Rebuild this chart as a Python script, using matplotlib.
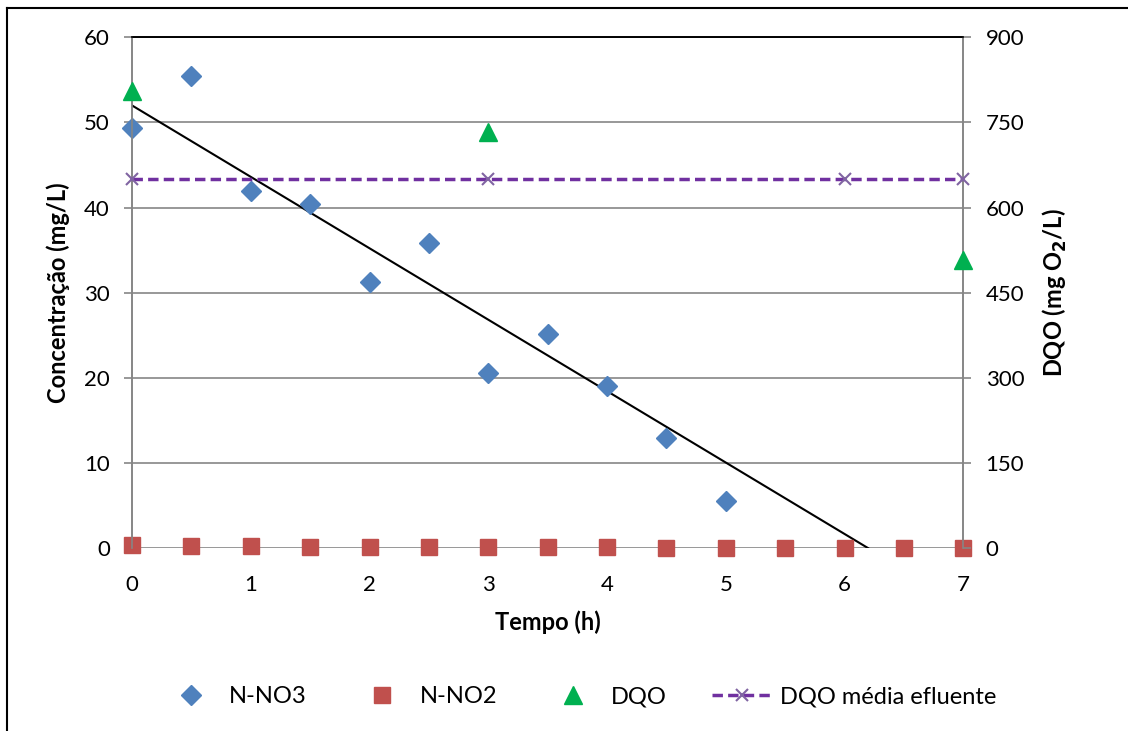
import matplotlib.pyplot as plt
from matplotlib.lines import Line2D

plt.rcParams['font.family'] = ['Lato', 'DejaVu Sans']

# dados
tempo_no3 = [0, 0.5, 1, 1.5, 2, 2.5, 3, 3.5, 4, 4.5, 5]
n_no3 = [49.4, 55.5, 41.9, 40.4, 31.3, 35.9, 20.6, 25.2, 19.1, 13.0, 5.5]

tempo_no2 = [0, 0.5, 1, 1.5, 2, 2.5, 3, 3.5, 4, 4.5, 5, 5.5, 6, 6.5, 7]
n_no2 = [0.4, 0.3, 0.25, 0.2, 0.2, 0.15, 0.1, 0.1, 0.1, 0.05, 0.0, 0.0, 0.0, 0.0, 0.0]

tempo_dqo = [0, 3, 7]
dqo = [806, 733, 508]

tempo_media = [0, 3, 6, 7]
dqo_media = [650, 650, 650, 650]

# linha de tendência (N-NO3)
trend_x = [0, 6.2]
trend_y = [52.0, 0.0]

fig = plt.figure(figsize=(11.28, 7.31), dpi=100)
ax = fig.add_axes([0.117, 0.250, 0.737, 0.699])
ax2 = ax.twinx()

grid_c = '#868686'
ax.set_xlim(0, 7)
ax.set_ylim(0, 60)
ax.set_yticks(range(0, 61, 10))
ax.set_xticks(range(0, 8))
ax2.set_ylim(0, 900)
ax2.set_yticks(range(0, 901, 150))
ax.yaxis.grid(True, color=grid_c, lw=1.2)
ax.set_axisbelow(True)

for a in (ax, ax2):
    for s in a.spines.values():
        s.set_color(grid_c)
        s.set_linewidth(1.2)
    a.spines['top'].set_color('black')
    a.spines['bottom'].set_visible(False)
    a.tick_params(labelsize=16, colors='black', length=6, width=1.2)
    a.tick_params(axis='y', color=grid_c, pad=10)
ax.tick_params(axis='x', length=0, pad=19)

ax.plot(trend_x, trend_y, color='black', lw=1.5, zorder=3)
h1, = ax.plot(tempo_no3, n_no3, 'D', color='#4F81BD', ms=10, ls='none',
              clip_on=False, zorder=4, label='N-NO3')
h2, = ax.plot(tempo_no2, n_no2, 's', color='#C0504D', ms=12, ls='none',
              clip_on=False, zorder=4, label='N-NO2')
h3, = ax2.plot(tempo_dqo, dqo, '^', color='#00B050', ms=13, ls='none',
               clip_on=False, zorder=4, label='DQO')
h4, = ax2.plot(tempo_media, dqo_media, color='#7030A0', ls='--', lw=2.5,
               dashes=(3, 1.5), marker='x', mec='#8064A2', ms=9, mew=1.5,
               clip_on=False, zorder=4, label='DQO média efluente')

ax.set_xlabel('Tempo (h)', fontsize=17, fontweight='bold', labelpad=11)
ax.set_ylabel('Concentração (mg/L)', fontsize=17, fontweight='bold', labelpad=10)
ax2.set_ylabel('DQO (mg O$_\\mathbf{2}$/L)', fontsize=17, fontweight='bold', labelpad=12)

fig.legend(handles=[h1, h2, h3, h4], loc='center', bbox_to_anchor=(0.513, 0.047),
           ncol=4, frameon=False, fontsize=17, columnspacing=1.9,
           handlelength=2.6, handletextpad=0.3)

# moldura do gráfico
fig.add_artist(Line2D([7/1128, 7/1128], [0, 1 - 8/731], transform=fig.transFigure,
                      color='black', lw=1.5))
fig.add_artist(Line2D([7/1128, 1], [1 - 8/731, 1 - 8/731], transform=fig.transFigure,
                      color='black', lw=1.5))

fig.savefig('out.png', dpi=100)
